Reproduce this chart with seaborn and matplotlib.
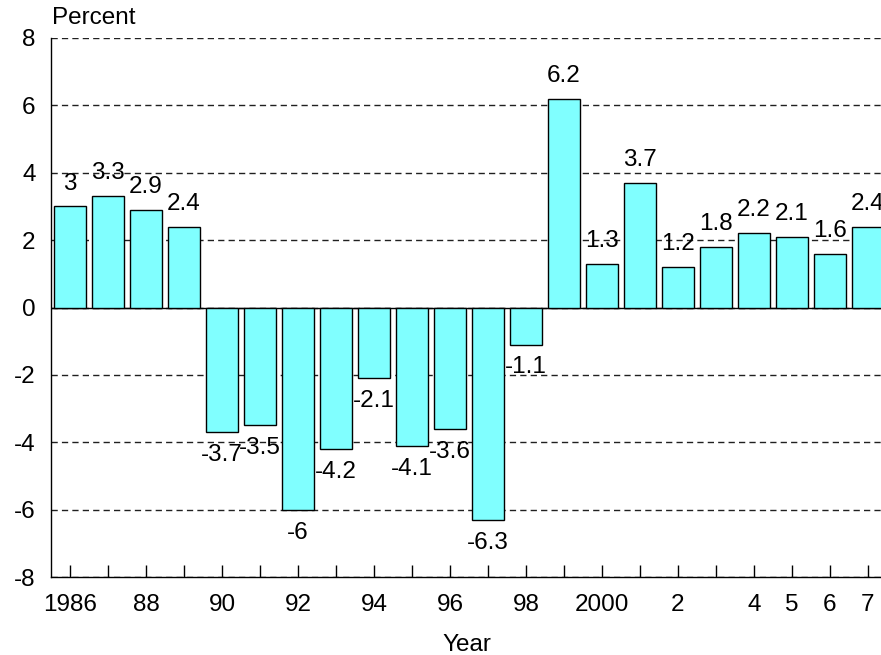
import matplotlib
matplotlib.use("Agg")
import matplotlib.pyplot as plt
import seaborn as sns
import pandas as pd

years = [str(y) for y in range(1986, 2008)]
values = [3, 3.3, 2.9, 2.4, -3.7, -3.5, -6, -4.2, -2.1, -4.1, -3.6, -6.3,
          -1.1, 6.2, 1.3, 3.7, 1.2, 1.8, 2.2, 2.1, 1.6, 2.4]
tick_labels = ["1986", "", "88", "", "90", "", "92", "", "94", "", "96", "",
               "98", "", "2000", "", "2", "", "4", "5", "6", "7"]
y_ticks = [-8, -6, -4, -2, 0, 2, 4, 6, 8]

sns.set_theme(style="white")
plt.rcParams['font.family'] = ['Liberation Sans', 'DejaVu Sans']
plt.rcParams['text.color'] = 'black'
plt.rcParams['xtick.color'] = 'black'
plt.rcParams['ytick.color'] = 'black'
plt.rcParams['xtick.labelcolor'] = 'black'
plt.rcParams['ytick.labelcolor'] = 'black'
FS = 17.5

df = pd.DataFrame({"Year": years, "Percent": values})

fig = plt.figure(figsize=(8.81, 6.55), dpi=100)
W, H = 881, 655
ax = fig.add_axes([51 / W, (H - 577) / H, (887 - 51) / W, 539 / H])

sns.barplot(data=df, x="Year", y="Percent", order=years, color="#80FFFF",
            saturation=1, width=0.84, edgecolor="black", linewidth=1,
            ax=ax, zorder=3)

ax.set_ylim(-8, 8)
ax.set_xlim(-0.5, len(years) - 0.5)
ax.set_yticks(y_ticks)
ax.set_yticklabels([str(t) for t in y_ticks], fontsize=FS, color="black")
ax.set_xticks(range(len(years)))
ax.set_xticklabels(tick_labels, fontsize=FS, color="black")
ax.tick_params(axis="x", direction="in", length=8.6, width=1, color="black",
               pad=12, bottom=True)
ax.tick_params(axis="y", length=0, pad=11)
ax.set_xlabel("")
ax.set_ylabel("")

ax.grid(axis="y", linestyle=(0, (4.5, 3)), color="#202020", linewidth=1, zorder=0)
ax.grid(axis="x", visible=False)
ax.axhline(0, color="black", linewidth=1, zorder=2)

for s in ["top", "right"]:
    ax.spines[s].set_visible(False)
for s in ["left", "bottom"]:
    ax.spines[s].set_color("black")
    ax.spines[s].set_linewidth(1)
    ax.spines[s].set_zorder(5)

for i, v in enumerate(values):
    off = 16.5 if v >= 0 else -16.5
    ax.annotate(f"{v:g}", xy=(i, v), xytext=(0, off), textcoords="offset points",
                ha="center", va="center", fontsize=FS, color="black", zorder=6)

fig.text(52 / W, 1 - 18 / H, "Percent", ha="left", va="center", fontsize=FS, color="black")
fig.text(467 / W, 1 - 645 / H, "Year", ha="center", va="center", fontsize=FS, color="black")

fig.savefig("out.png", dpi=100, facecolor="white")
